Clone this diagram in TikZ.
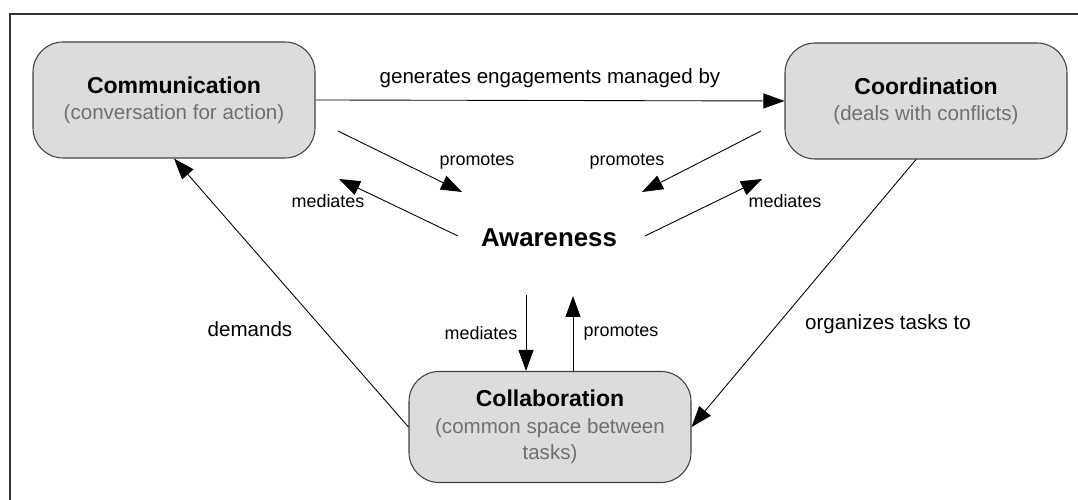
\documentclass[tikz,border=0pt]{standalone}
\usepackage{fontspec}
\setmainfont{Liberation Sans}
\usetikzlibrary{arrows.meta}
\definecolor{boxgray}{RGB}{220,220,220}
\definecolor{subgray}{RGB}{112,112,112}

\begin{document}
\begin{tikzpicture}[
		box/.style={draw=black!75, fill=boxgray, line width=0.6pt, rounded corners=0.6cm,
			minimum width=5.64cm, minimum height=2.32cm, align=center,
			font=\fontsize{11.7}{15}\selectfont},
		link/.style={line width=0.5pt, -{Triangle[length=0.42cm,width=0.3cm]}},
		lbl/.style={font=\fontsize{11.7}{14}\selectfont},
		small/.style={font=\fontsize{10.2}{12}\selectfont}
	]
				\useasboundingbox (0,0) rectangle (21.56,10);
				\draw[line width=0.6pt, black!80] (0.2,0) -- (0.2,9.72) -- (21.56,9.72);
				
				\node[box] (comm) at (3.48,8.0) {{\fontsize{13.1}{15}\selectfont\bfseries Communication}\\\textcolor{subgray}{(conversation for action)}};
				\node[box] (coord) at (18.52,7.98) {{\fontsize{13.1}{15}\selectfont\bfseries Coordination}\\\textcolor{subgray}{(deals with conflicts)}};
				\node[box, minimum height=2.22cm] (collab) at (11.0,1.46) {{\fontsize{13.1}{15}\selectfont\bfseries Collaboration}\\\textcolor{subgray}{(common space between}\\\textcolor{subgray}{tasks)}};
				\node[font=\fontsize{14.7}{17}\selectfont\bfseries] (aware) at (10.98,5.24) {Awareness};
				
				\coordinate (cp1) at (6.76,7.38);
				\coordinate (cp2) at (9.24,6.16);
				\coordinate (cm1) at (9.16,5.28);
				\coordinate (cm2) at (6.78,6.42);
				\coordinate (op1) at (15.22,7.38);
				\coordinate (op2) at (12.84,6.16);
				\coordinate (om1) at (12.9,5.28);
				\coordinate (om2) at (15.24,6.42);
				\coordinate (lm) at (10.52,4.1);
				\coordinate (lp) at (11.46,4.08);
				
				\draw[link] (comm.east) -- node[lbl, above=0.12cm] {generates engagements managed by} (coord.west);
				
				\draw[link] (cp1) -- (cp2);
				\draw[link] (cm1) -- (cm2);
				\draw[link] (op1) -- (op2);
				\draw[link] (om1) -- (om2);
				\draw[link] (lm) -- (lm |- collab.north);
				\draw[link] (collab.north -| lp) -- (lp);
				
				\draw[link] (collab.west) -- (comm.south);
				\draw[link] ([xshift=-0.2cm]coord.south) -- (collab.east);
				
				\node[small] at (9.54,6.76) {promotes};
				\node[small] at (12.54,6.76) {promotes};
				\node[small] at (6.56,5.98) {mediates};
				\node[small] at (15.7,5.98) {mediates};
				\node[small] at (9.62,3.34) {mediates};
				\node[small] at (12.42,3.34) {promotes};
				\node[lbl] at (5.0,3.42) {demands};
				\node[lbl] at (17.76,3.52) {organizes tasks to};
\end{tikzpicture}
\end{document}
